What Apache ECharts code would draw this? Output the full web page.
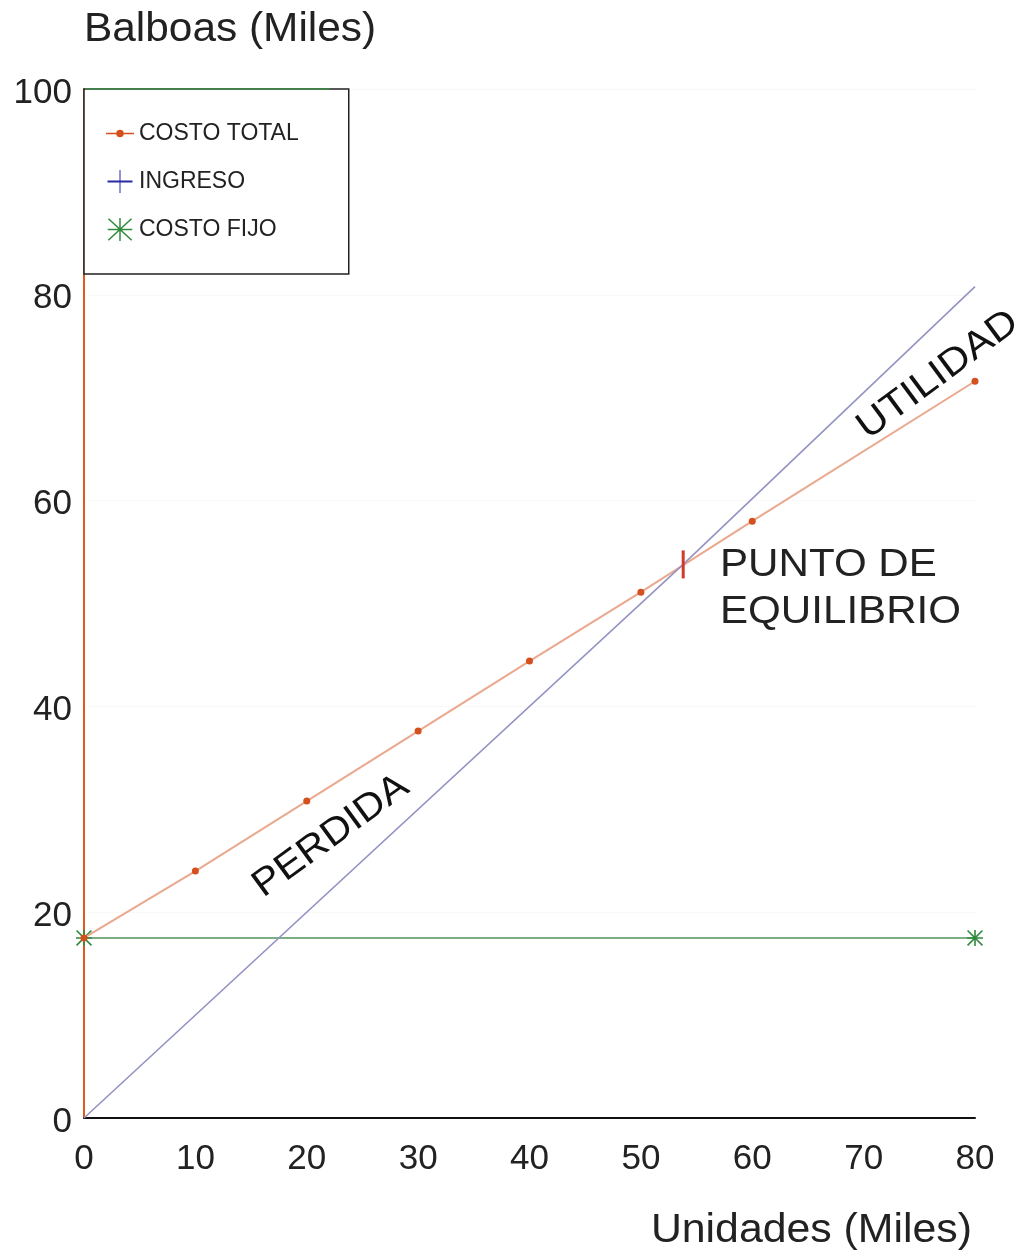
<!DOCTYPE html>
<html>
<head>
<meta charset="utf-8">
<script src="https://cdn.jsdelivr.net/npm/echarts@6/dist/echarts.min.js"></script>
<style>
  html, body { margin: 0; padding: 0; background: #fff; }
  #chart { width: 1024px; height: 1256px; }
</style>
</head>
<body>
<div id="chart"></div>
<script>
// Units (thousands) and amounts in balboas (thousands)
const unidadesCosto = [0, 10, 20, 30, 40, 50, 60, 80];
const costoTotal = [17.5, 24.0, 30.8, 37.6, 44.4, 51.1, 58.0, 71.6];
const unidadesIngreso = [0, 53.8, 80];
const ingreso = [0, 53.8, 80.8];
const unidadesFijo = [0, 80];
const costoFijo = [17.5, 17.5];
const xTicks = [0, 10, 20, 30, 40, 50, 60, 70, 80];
const yTicks = [0, 20, 40, 60, 80, 100];

const FONT = '"Liberation Sans", Arial, Helvetica, sans-serif';

// Marker shapes
const plusPath = 'path://M9 0 L11 0 L11 20 L9 20 Z M0 9 L20 9 L20 11 L0 11 Z';
const starPath = 'path://M9 0 L11 0 L11 20 L9 20 Z M0 9 L20 9 L20 11 L0 11 Z ' +
  'M1.4 0 L20 18.6 L18.6 20 L0 1.4 Z M18.6 0 L20 1.4 L1.4 20 L0 18.6 Z';
const tickPath = 'path://M9 0 L11 0 L11 30 L9 30 Z';

// Legend icons
const iconCosto = 'path://M0 2.7 L26 2.7 L26 4.3 L0 4.3 Z M13 0 A3.5 3.5 0 1 1 13 7 A3.5 3.5 0 1 1 13 0 Z';
const iconIngreso = 'path://M12 0 L13 0 L13 23 L12 23 Z M0 10.5 L25 10.5 L25 12.5 L0 12.5 Z';
const iconFijo = 'path://M11 0 L12.4 0 L12.4 22 L11 22 Z M0 10.3 L23.4 10.3 L23.4 11.7 L0 11.7 Z ' +
  'M1.2 0.3 L23.4 20.8 L22.4 21.8 L0.2 1.3 Z M22.2 0.3 L23.2 1.3 L1.0 21.8 L0 20.8 Z';

const chart = echarts.init(document.getElementById('chart'), null, { renderer: 'canvas' });

chart.setOption({
  backgroundColor: '#ffffff',
  animation: false,
  grid: { left: 84, right: 49, top: 89, bottom: 138, containLabel: false },
  legend: {
    left: 84,
    top: 89,
    orient: 'vertical',
    backgroundColor: '#ffffff',
    borderColor: '#222',
    borderWidth: 1.5,
    borderRadius: 0,
    padding: [33, 50, 33, 22],
    itemWidth: 28,
    itemHeight: 23,
    itemGap: 25,
    symbolKeepAspect: true,
    textStyle: { fontFamily: FONT, fontSize: 23, color: '#222' },
    data: [
      { name: 'COSTO TOTAL', icon: iconCosto },
      { name: 'INGRESO', icon: iconIngreso },
      { name: 'COSTO FIJO', icon: iconFijo }
    ]
  },
  xAxis: {
    type: 'value',
    min: 0, max: 80, interval: 10,
    axisLine: { show: true, lineStyle: { color: '#111', width: 2 } },
    axisTick: { show: false },
    splitLine: { show: false },
    axisLabel: {
      margin: 24, fontFamily: FONT, fontSize: 35, color: '#222',
      formatter: v => xTicks.includes(v) ? String(v) : ''
    }
  },
  yAxis: {
    type: 'value',
    min: 0, max: 100, interval: 20,
    axisLine: { show: true, lineStyle: { color: '#e05a1e', width: 2 } },
    axisTick: { show: false },
    splitLine: { show: true, lineStyle: { color: '#f2f2f2', type: 'dotted', width: 1 } },
    axisLabel: {
      margin: 12, color: '#222',
      formatter: v => yTicks.includes(v) ? '{v|' + v + '}' : '',
      rich: {
        v: { fontFamily: FONT, fontSize: 35, color: '#222', padding: [8, 0, 0, 0] }
      }
    }
  },
  series: [
    {
      name: 'COSTO TOTAL',
      type: 'line',
      data: unidadesCosto.map((x, i) => [x, costoTotal[i]]),
      symbol: 'circle',
      symbolSize: 7,
      itemStyle: { color: '#d4501e' },
      lineStyle: { color: '#eaa88e', width: 2 },
      z: 3
    },
    {
      name: 'INGRESO',
      type: 'line',
      data: unidadesIngreso.map((x, i) => ({
        value: [x, ingreso[i]],
        symbol: i === 1 ? tickPath : 'none',
        symbolSize: i === 1 ? [3, 28] : 0,
        itemStyle: i === 1 ? { color: '#d23a2a' } : undefined
      })),
      symbol: plusPath,
      symbolSize: 18,
      itemStyle: { color: '#2a2aa8' },
      lineStyle: { color: '#9494c4', width: 1.6 },
      z: 4
    },
    {
      name: 'COSTO FIJO',
      type: 'line',
      data: unidadesFijo.map((x, i) => [x, costoFijo[i]]),
      symbol: starPath,
      symbolSize: 16,
      itemStyle: { color: '#2f8a3c' },
      lineStyle: { color: '#4f9358', width: 1.6 },
      z: 2
    }
  ],
  graphic: [
    {
      type: 'line', z: 100,
      shape: { x1: 85, y1: 89, x2: 330, y2: 89 },
      style: { stroke: '#3f8a4a', lineWidth: 1.5 }
    },
    {
      type: 'text', x: 84, y: 10, scaleX: 1.06,
      style: { text: 'Balboas (Miles)', font: '40px ' + FONT, fill: '#222' }
    },
    {
      type: 'text', x: 972, y: 1211, scaleX: 1.07,
      style: { text: 'Unidades (Miles)', font: '40px ' + FONT, fill: '#222', align: 'right' }
    },
    {
      type: 'text', x: 720, y: 542, scaleX: 1.08,
      style: { text: 'PUNTO DE\nEQUILIBRIO', font: '39px ' + FONT, fill: '#222', lineHeight: 47 }
    },
    {
      type: 'text', x: 331, y: 836, rotation: 36 * Math.PI / 180, scaleX: 1.08,
      style: { text: 'PERDIDA', font: '38px ' + FONT, fill: '#111', align: 'center', verticalAlign: 'middle' }
    },
    {
      type: 'text', x: 938, y: 375, rotation: 36.5 * Math.PI / 180, scaleX: 1.1,
      style: { text: 'UTILIDAD', font: '38px ' + FONT, fill: '#111', align: 'center', verticalAlign: 'middle' }
    }
  ]
});
</script>
</body>
</html>
